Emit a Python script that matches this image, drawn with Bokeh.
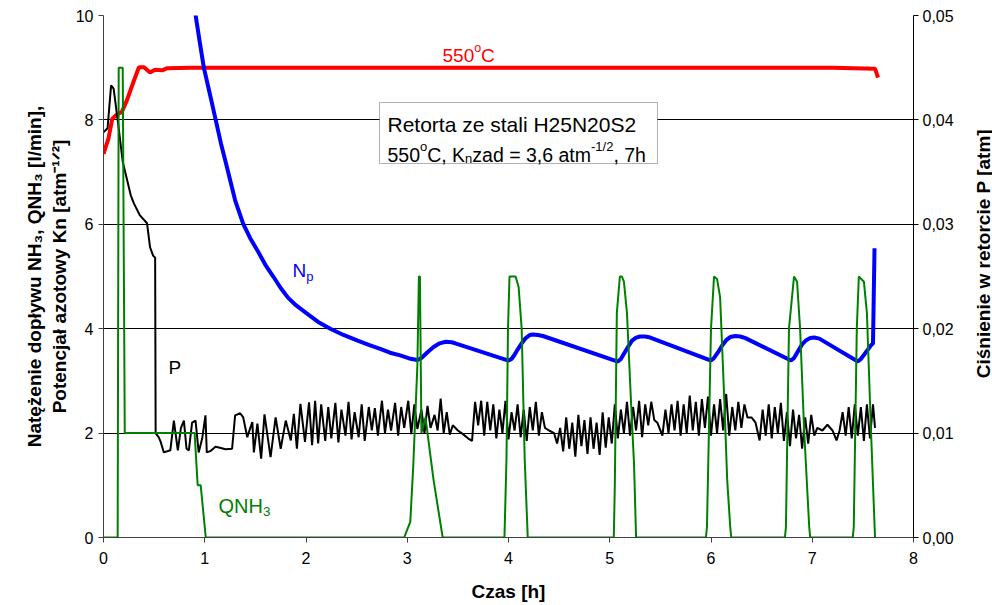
from bokeh.plotting import figure
from bokeh.models import (Range1d, LinearAxis, FixedTicker, CustomJSTickFormatter,
                          Label, BoxAnnotation)
from bokeh.layouts import row
from bokeh.embed import file_html
from bokeh.resources import INLINE
import math

FONT = "Liberation Sans"

# ---------------- data ----------------
x_ticks = [0, 1, 2, 3, 4, 5, 6, 7, 8]
y_ticks = [0, 2, 4, 6, 8, 10]
p_ticks = [0.0, 0.01, 0.02, 0.03, 0.04, 0.05]

# temperature trace (drawn on left scale, 550 C level ~ 9)
temp_t = [0.0, 0.05, 0.086, 0.13, 0.18, 0.23, 0.30, 0.35, 0.40, 0.46, 0.51, 0.58, 0.63,
          0.86, 1.5, 2.5, 3.5, 4.5, 5.5, 6.5, 7.2, 7.62, 7.65]
temp_v = [7.35, 7.65, 8.02, 8.10, 8.15, 8.37, 8.75, 9.01, 9.01, 8.91, 8.96, 8.95, 8.99,
          9.00, 9.00, 9.00, 9.00, 9.00, 9.00, 9.00, 9.00, 8.98, 8.81]

# nitriding potential Np [atm^-1/2]
np_t = [0.85, 0.91, 0.95, 0.99, 1.05, 1.106, 1.16, 1.22, 1.30, 1.38, 1.45, 1.52, 1.60,
        1.68, 1.75, 1.82, 1.90, 2.01, 2.12, 2.24, 2.37, 2.51, 2.62, 2.74, 2.83, 2.93,
        3.02, 3.10, 3.14, 3.20, 3.26, 3.32, 3.38, 3.44, 3.49,
        4.00, 4.03, 4.06, 4.09, 4.13, 4.17, 4.21, 4.24, 4.29, 4.34,
        5.08, 5.11, 5.14, 5.18, 5.22, 5.26, 5.30, 5.35, 5.40,
        6.00, 6.03, 6.07, 6.11, 6.15, 6.19, 6.24, 6.29, 6.34,
        6.79, 6.82, 6.86, 6.90, 6.94, 6.98, 7.02, 7.07,
        7.45, 7.48, 7.53, 7.58, 7.60, 7.615]
np_v = [10.6, 10.0, 9.50, 9.01, 8.50, 8.02, 7.55, 7.09, 6.46, 6.01, 5.73, 5.50, 5.22,
        4.99, 4.78, 4.60, 4.45, 4.29, 4.13, 4.00, 3.88, 3.77, 3.69, 3.61, 3.54, 3.49,
        3.43, 3.40, 3.44, 3.55, 3.65, 3.72, 3.75, 3.74, 3.71,
        3.39, 3.42, 3.50, 3.60, 3.72, 3.82, 3.88, 3.89, 3.88, 3.86,
        3.37, 3.42, 3.52, 3.65, 3.77, 3.83, 3.85, 3.85, 3.83,
        3.39, 3.44, 3.55, 3.68, 3.78, 3.84, 3.86, 3.85, 3.82,
        3.39, 3.44, 3.57, 3.70, 3.78, 3.82, 3.83, 3.81,
        3.37, 3.42, 3.55, 3.68, 3.72, 5.54]

# ammonia flow QNH3 [l/min]
q_t = [0.0, 0.14, 0.15, 0.19, 0.21, 0.90, 0.93, 0.96, 1.01,
       2.97, 3.00, 3.03, 3.06, 3.10, 3.115, 3.125, 3.14, 3.18, 3.26, 3.35,
       3.96, 3.98, 3.995, 4.01, 4.07, 4.10, 4.13, 4.16, 4.19,
       5.04, 5.05, 5.07, 5.10, 5.12, 5.14, 5.17, 5.21, 5.24, 5.26,
       5.95, 5.96, 6.00, 6.03, 6.06, 6.09, 6.13, 6.16, 6.19, 6.20,
       6.73, 6.74, 6.77, 6.82, 6.85, 6.88, 6.92, 6.97, 6.98,
       7.40, 7.41, 7.44, 7.46, 7.51, 7.54, 7.58, 7.62]
q_v = [0.0, 0.0, 9.0, 9.0, 2.0, 2.0, 1.0, 1.0, 0.0,
       0.0, 0.15, 0.30, 1.40, 3.30, 5.0, 5.0, 2.0, 2.30, 1.10, 0.0,
       0.0, 1.5, 4.0, 5.0, 5.0, 4.8, 4.0, 1.5, 0.0,
       0.0, 1.0, 4.3, 5.0, 5.0, 4.9, 4.3, 2.6, 1.4, 0.0,
       0.0, 0.2, 4.0, 5.0, 4.95, 4.6, 2.7, 1.1, 0.2, 0.0,
       0.0, 0.2, 4.0, 5.0, 4.9, 4.0, 2.05, 0.2, 0.0,
       0.0, 0.2, 4.0, 5.0, 4.9, 4.3, 2.05, 0.0]

# retort pressure P, in milli-atm
p_t = [0.00, 0.04, 0.075, 0.10, 0.14, 0.19, 0.27, 0.30, 0.36, 0.43, 0.46, 0.49, 0.51, 0.515,
       0.546, 0.565, 0.596, 0.66, 0.695, 0.734, 0.765, 0.794, 0.82, 0.843, 0.875, 0.909, 0.94,
       0.975, 1.007, 1.02, 1.06, 1.106, 1.15, 1.205, 1.27, 1.30, 1.35, 1.38, 1.42, 1.45, 1.47,
       1.485, 1.52, 1.557, 1.59, 1.65, 1.70, 1.75, 1.80, 1.85, 1.88, 1.91, 1.945, 1.99, 2.03,
       2.06, 2.09,
       2.12, 2.15, 2.19, 2.22, 2.25, 2.29, 2.32, 2.35, 2.39, 2.42, 2.45, 2.48, 2.52, 2.55, 2.58,
       2.62, 2.65, 2.68, 2.71, 2.75, 2.78, 2.81, 2.84, 2.88, 2.91, 2.94, 2.97, 3.01, 3.04, 3.07,
       3.10, 3.14, 3.17, 3.20, 3.23, 3.27, 3.30, 3.33, 3.36, 3.39, 3.42, 3.45, 3.50, 3.55, 3.60,
       3.64, 3.67, 3.70, 3.73, 3.76, 3.79, 3.82, 3.85, 3.88, 3.91, 3.94, 3.97, 4.00, 4.03, 4.06,
       4.09, 4.12, 4.15, 4.18, 4.21, 4.24, 4.27, 4.30, 4.33, 4.36, 4.40, 4.45, 4.48, 4.51, 4.54,
       4.57, 4.60, 4.63, 4.66, 4.69, 4.72, 4.75, 4.78, 4.81, 4.84, 4.87, 4.90, 4.93, 4.96, 4.99,
       5.02, 5.05, 5.08, 5.11, 5.14, 5.17, 5.20, 5.23, 5.26, 5.29, 5.32, 5.35, 5.38, 5.41, 5.44,
       5.47, 5.52, 5.55, 5.58, 5.61, 5.64, 5.67, 5.70, 5.73, 5.76, 5.79, 5.82, 5.85, 5.88, 5.91,
       5.94, 5.97, 6.00, 6.03, 6.06, 6.09, 6.12, 6.15, 6.18, 6.21, 6.24, 6.27, 6.30, 6.33, 6.36,
       6.40, 6.44, 6.48, 6.51, 6.54, 6.57, 6.60, 6.63, 6.66, 6.69, 6.72, 6.75, 6.78, 6.81, 6.84,
       6.87, 6.90, 6.93, 6.96, 6.99, 7.02, 7.05, 7.10, 7.15, 7.20, 7.24, 7.27, 7.30, 7.33, 7.36,
       7.39, 7.42, 7.45, 7.48, 7.51, 7.54, 7.57, 7.60, 7.62]
p_matm = [38.8, 39.2, 43.3, 43.0, 40.0, 36.0, 32.75, 32.0, 30.85, 30.1, 27.8, 27.0, 26.8, 10.0,
          9.6, 9.15, 8.15, 8.35, 11.2, 8.35, 10.5, 11.2, 8.5, 8.35, 11.0, 11.2, 8.15,
          9.5, 11.7, 8.15, 8.3, 8.7, 8.6, 8.45, 8.5, 11.7, 11.9, 11.5, 9.6, 10.5, 11.05,
          8.15, 10.9, 7.55, 11.8, 7.7, 11.5, 8.5, 11.2, 9.3, 11.85, 8.5, 12.8, 9.15, 12.95,
          8.85, 13.1,
          9.0, 12.75, 9.25, 12.5, 9.5, 12.9, 9.1, 12.25, 9.75, 13.0, 9.4, 12.0, 9.6, 12.75, 9.25,
          12.5, 10.25, 12.4, 9.75, 13.1, 10.0, 12.25, 10.25, 12.9, 9.75, 12.5, 10.5, 13.1, 9.9, 12.75,
          10.4, 12.25, 10.0, 12.6, 10.5, 11.75, 10.25, 13.3, 10.0, 12.0, 9.85, 10.75, 10.25, 9.9, 9.5,
          9.25, 13.0, 10.75, 13.1, 9.75, 13.0, 10.25, 12.75, 9.5, 12.25, 10.0, 13.1, 9.4, 12.0, 10.25,
          12.75, 9.6, 12.25, 9.25, 12.5, 10.25, 13.0, 9.75, 12.0, 10.5, 10.25, 10.0, 9.0, 10.5, 8.25,
          11.5, 8.5, 11.0, 7.75, 11.75, 8.75, 11.25, 8.0, 11.5, 8.5, 11.0, 7.9, 12.0, 8.6, 11.5,
          9.0, 12.75, 9.5, 12.25, 10.0, 13.0, 9.75, 12.5, 10.25, 13.1, 9.6, 12.75, 10.75, 13.0, 11.25,
          11.0, 9.75, 12.25, 10.0, 12.75, 10.25, 13.1, 9.75, 12.75, 10.0, 13.6, 10.25, 13.0, 9.75, 13.25,
          10.5, 13.5, 9.75, 12.75, 10.0, 13.25, 10.25, 13.75, 9.75, 12.5, 10.25, 13.0, 10.5, 12.75, 11.5,
          11.5, 11.0, 9.3, 12.25, 9.75, 12.75, 9.5, 12.5, 10.0, 12.9, 9.25, 12.0, 8.75, 12.25, 9.5,
          11.75, 8.5, 11.5, 9.0, 11.75, 9.75, 10.5, 10.25, 10.8, 10.25, 9.3, 10.25, 12.0, 9.75, 12.5,
          9.5, 12.75, 9.75, 12.5, 9.25, 12.75, 9.5, 12.75, 10.5]
p_atm = [v / 1000.0 for v in p_matm]

title_x = "Czas [h]"
title_left_1 = "Natężenie dopływu NH₃, QNH₃ [l/min],"
title_left_2 = "Potencjał azotowy Kn [atm⁻¹ᐟ²]"
title_right = "Ciśnienie w retorcie P [atm]"

# ---------------- main figure ----------------
MAIN_W = 968
p = figure(width=MAIN_W, height=605, x_range=Range1d(0, 8), y_range=Range1d(0, 10),
           output_backend="svg", toolbar_location=None,
           min_border_left=103, min_border_right=MAIN_W - 913, min_border_top=15,
           min_border_bottom=68)
p.extra_y_ranges = {"p": Range1d(0, 0.05)}
p.outline_line_color = None
p.background_fill_color = "white"
p.border_fill_color = "white"

p.xgrid.grid_line_color = None
p.ygrid.ticker = FixedTicker(ticks=y_ticks)
p.ygrid.grid_line_color = "#000000"
p.ygrid.grid_line_width = 1


def style_title(ax, size="19px"):
    ax.axis_label_text_font = FONT
    ax.axis_label_text_font_size = size
    ax.axis_label_text_font_style = "bold"
    ax.axis_label_text_color = "#000000"


for ax in (p.xaxis[0], p.yaxis[0]):
    ax.major_label_text_font = FONT
    ax.major_label_text_font_size = "16px"
    ax.major_label_text_color = "#000000"
    ax.axis_line_color = "#404040"
    ax.major_tick_line_color = "#404040"
    ax.major_tick_in = 0
    ax.major_tick_out = 5
    ax.minor_tick_line_color = None
    style_title(ax)

p.xaxis.ticker = FixedTicker(ticks=x_ticks)
p.xaxis.major_label_standoff = 9
p.xaxis.axis_label = title_x
p.xaxis.axis_label_standoff = 14
p.yaxis.ticker = FixedTicker(ticks=y_ticks)
p.yaxis.major_label_standoff = 5
p.yaxis.axis_label = title_left_2
p.yaxis.axis_label_standoff = 3

# outer left axis carrying the first line of the left title
la2 = LinearAxis(ticker=FixedTicker(ticks=[]), axis_line_color=None,
                 major_tick_line_color=None, minor_tick_line_color=None,
                 major_tick_out=0, major_tick_in=0, major_label_standoff=0,
                 axis_label=title_left_1, axis_label_standoff=1)
style_title(la2)
p.add_layout(la2, "left")

ra = LinearAxis(y_range_name="p", ticker=FixedTicker(ticks=p_ticks),
                formatter=CustomJSTickFormatter(code="return tick.toFixed(2).replace('.', ',');"))
ra.major_label_text_font = FONT
ra.major_label_text_font_size = "16px"
ra.major_label_text_color = "#000000"
ra.axis_line_color = "#000000"
ra.major_tick_line_color = "#000000"
ra.major_tick_in = 0
ra.major_tick_out = 5
ra.minor_tick_line_color = None
ra.major_label_standoff = 4
p.add_layout(ra, "right")

# ---------------- series ----------------
p.line(temp_t, temp_v, line_color="#ff0000", line_width=4)
p.line(p_t, p_atm, y_range_name="p", line_color="#000000", line_width=2)
p.line(np_t, np_v, line_color="#0000ff", line_width=4)
p.line(q_t, q_v, line_color="#008000", line_width=2)


# ---------------- annotations ----------------
def dx(X):
    return (X - 103) / 101.25


def dy(Y):
    return (537 - Y) / 52.2


def add_text(X, Y, text, size, color="#000000", bold=False, angle=0.0,
             align="left", baseline="alphabetic"):
    p.add_layout(Label(x=dx(X), y=dy(Y), text=text, text_font=FONT,
                       text_font_size=f"{size}px", text_color=color,
                       text_font_style="bold" if bold else "normal",
                       angle=angle, text_align=align, text_baseline=baseline))


# info box
p.add_layout(BoxAnnotation(left=dx(379), right=dx(657), top=dy(102), bottom=dy(163),
                           fill_color="white", fill_alpha=1.0,
                           line_color="#000000", line_width=1))
add_text(387, 124, "Retorta ze stali H25N20S2", 21)
add_text(387, 154, "550", 19.5)
add_text(419.5, 146, "o", 13)
add_text(426.7, 154, "C, K", 19.5)
add_text(464.6, 158, "n", 13)
add_text(471.8, 154, "zad = 3,6 atm", 19.5)
add_text(590.5, 146, "-1/2", 13)
add_text(612.9, 154, ", 7h", 19.5)

# series labels
add_text(442, 55, "550", 19, color="#ff0000")
add_text(473.7, 47, "o", 12.5, color="#ff0000")
add_text(480.6, 55, "C", 19, color="#ff0000")

add_text(292, 270, "N", 19, color="#0000ff")
add_text(305.7, 276, "p", 13, color="#0000ff")

add_text(168, 367, "P", 19)

add_text(218, 505, "QNH", 20, color="#008000")
add_text(262.4, 511, "3", 13.5, color="#008000")

# ---------------- right-hand title strip ----------------
STRIP_W = 992 - MAIN_W
t2 = figure(width=STRIP_W, height=605, x_range=Range1d(MAIN_W, 992), y_range=Range1d(605, 0),
            output_backend="svg", toolbar_location=None, x_axis_type=None, y_axis_type=None,
            min_border=0, min_border_left=0, min_border_right=0,
            min_border_top=0, min_border_bottom=0)
t2.outline_line_color = None
t2.grid.grid_line_color = None
t2.background_fill_color = "white"
t2.border_fill_color = "white"
t2.add_layout(Label(x=982.5, y=276, text=title_right, text_font=FONT,
                    text_font_size="19px", text_font_style="bold", text_color="#000000",
                    angle=math.pi / 2, text_align="center", text_baseline="middle"))

layout = row(p, t2, spacing=0)
open("out.html", "w").write(file_html(layout, INLINE))
